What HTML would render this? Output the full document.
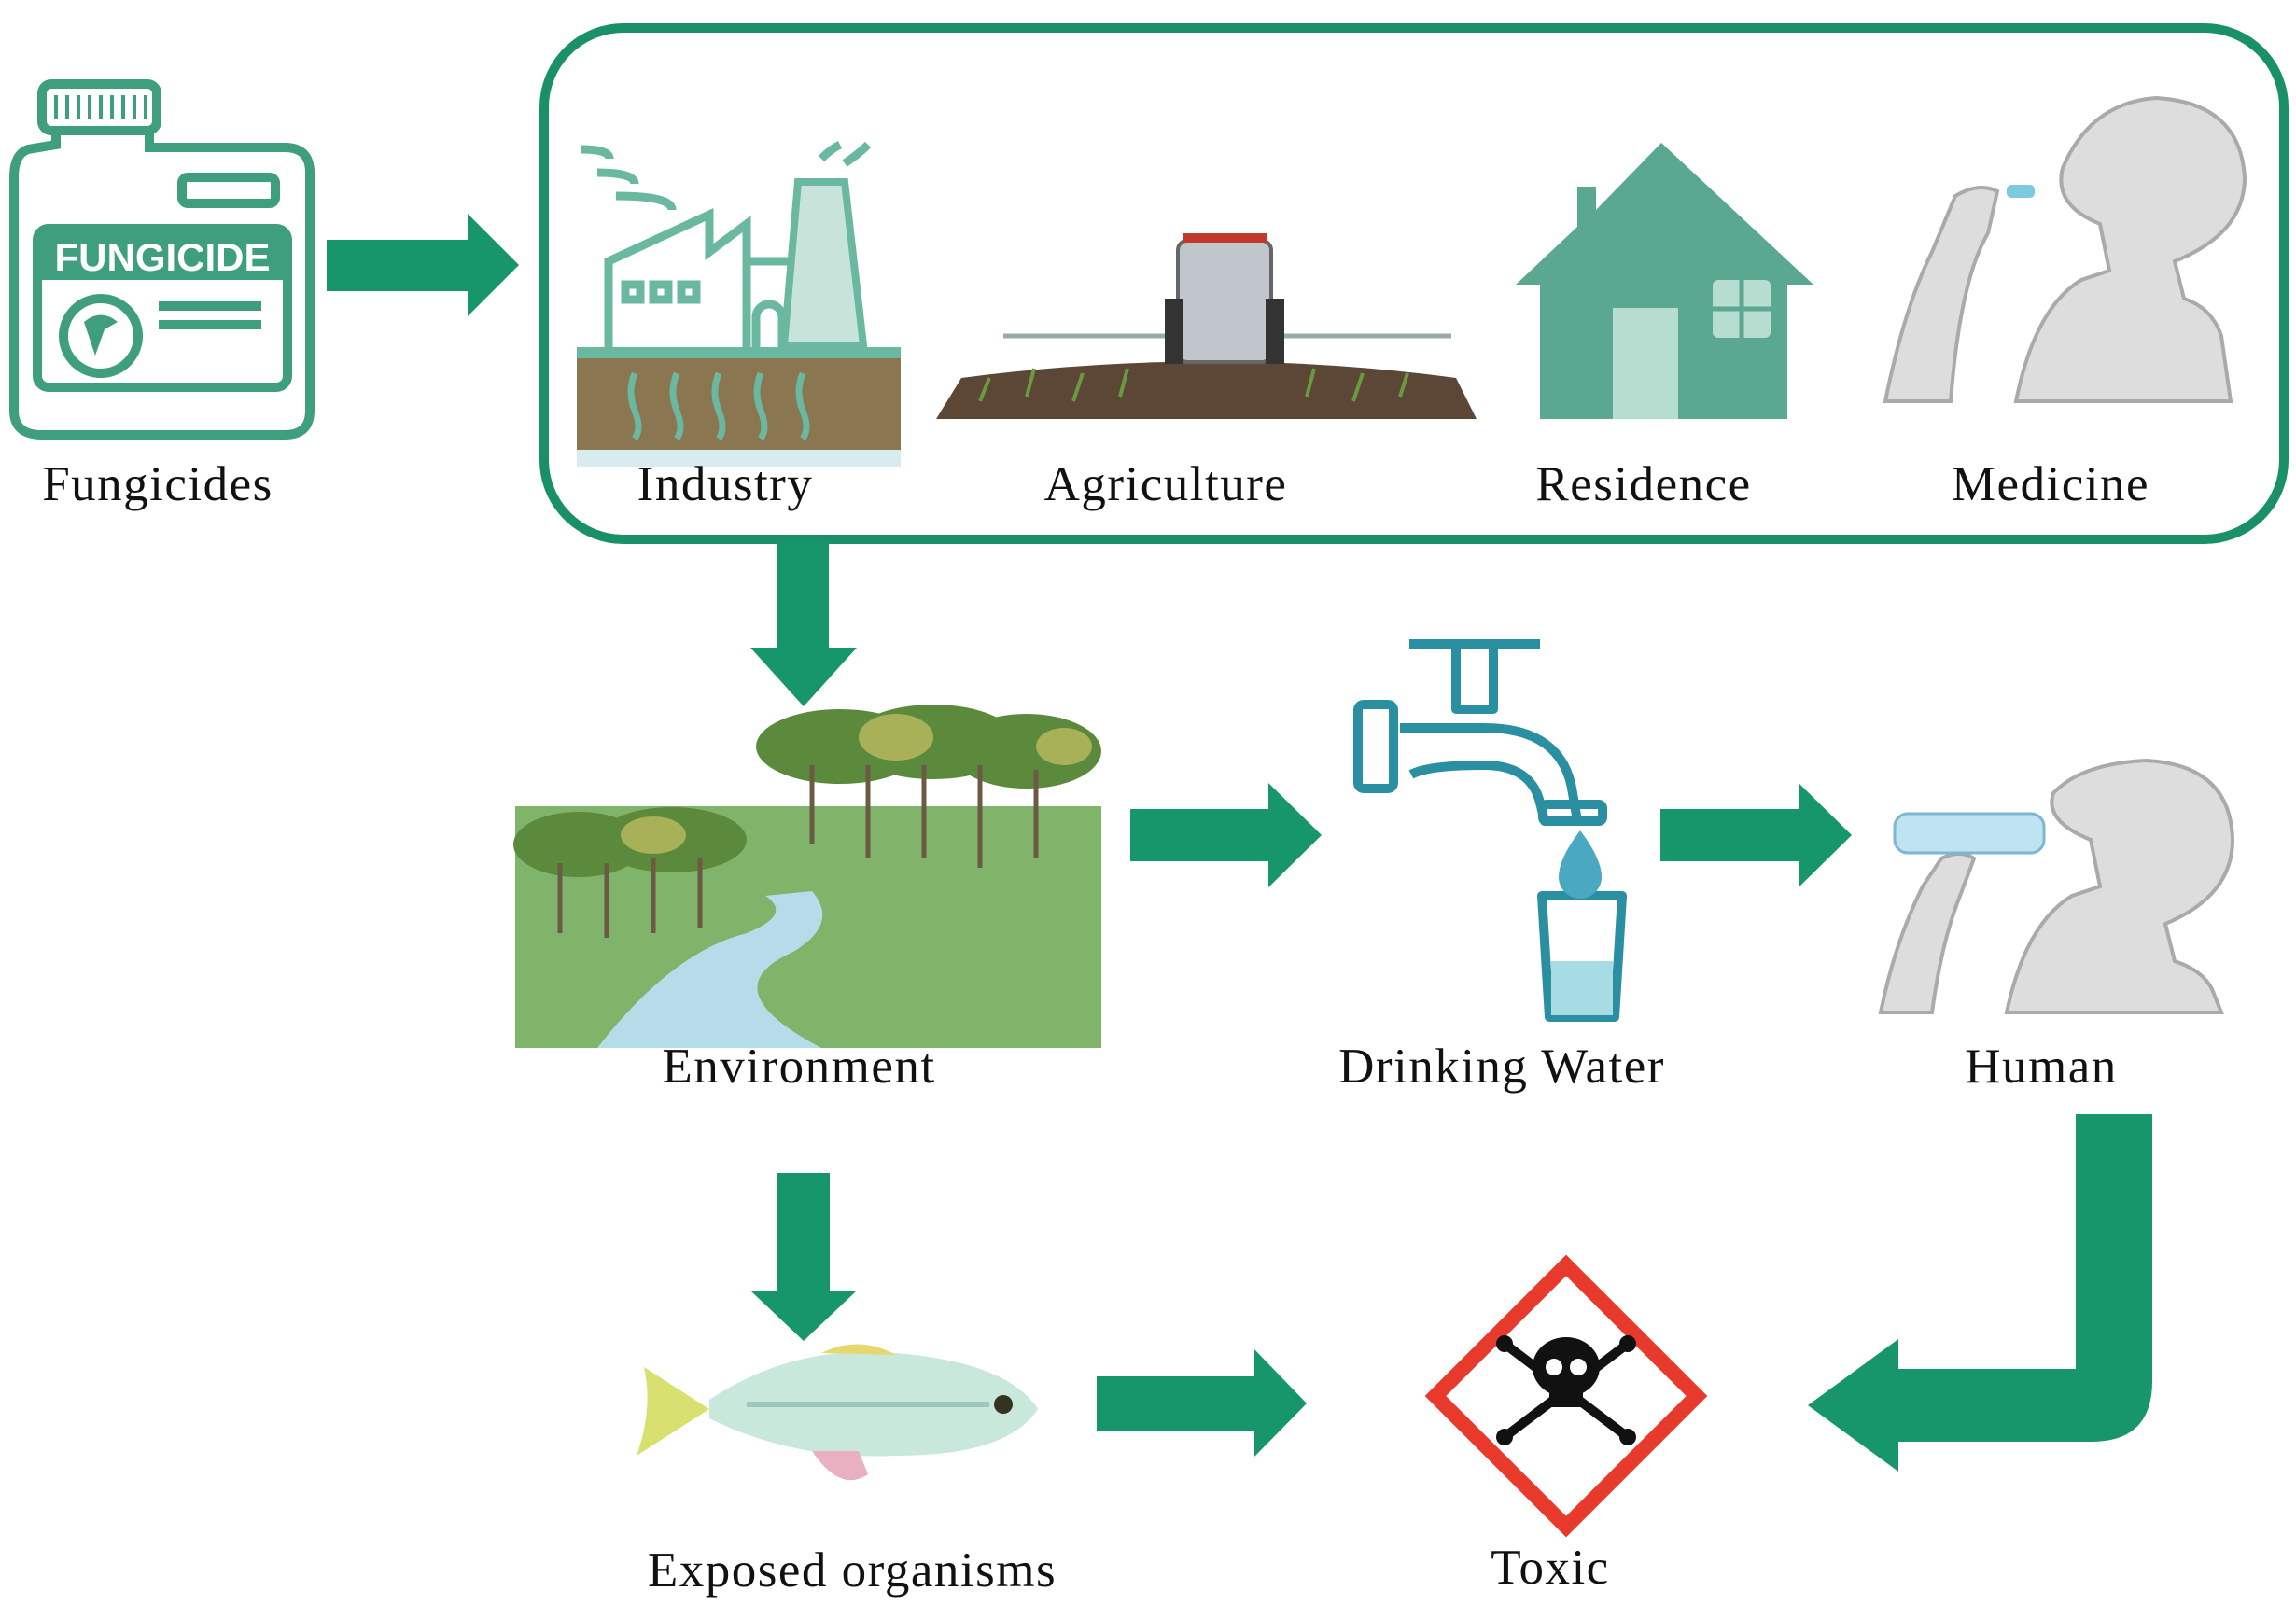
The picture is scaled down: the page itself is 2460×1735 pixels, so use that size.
<!DOCTYPE html>
<html><head><meta charset="utf-8"><style>
html,body{margin:0;padding:0;background:#fff;}
svg{display:block;}
text{font-family:"Liberation Serif",serif;font-size:53px;letter-spacing:1.5px;fill:#111;text-anchor:middle;}
</style></head><body>
<svg width="2460" height="1735" viewBox="0 0 2460 1735" xmlns="http://www.w3.org/2000/svg">
<rect x="583" y="30" width="1864" height="548" rx="85" fill="none" stroke="#1a9068" stroke-width="10"/>
<g fill="#17956b">
<polygon points="350,257 501,257 501,229 556,284 501,339 501,312 350,312"/>
<polygon points="833,580 888,580 888,694 918,694 861,757 804,694 833,694"/>
<polygon points="1211,867 1359,867 1359,839 1416,895 1359,951 1359,923 1211,923"/>
<polygon points="1779,867 1927,867 1927,839 1984,895 1927,951 1927,923 1779,923"/>
<polygon points="833,1257 889,1257 889,1383 918,1383 861,1437 804,1383 833,1383"/>
<polygon points="1175,1475 1344,1475 1344,1446 1400,1504 1344,1561 1344,1533 1175,1533"/>
<path d="M2224,1194 L2306,1194 L2306,1480 Q2306,1545 2241,1545 L2034,1545 L2034,1577 L1937,1506 L2034,1435 L2034,1467 L2224,1467 Z"/>
</g>
<!-- fungicide jug -->
<g fill="none" stroke="#3f9e7e" stroke-width="10">
<rect x="45" y="90" width="123" height="50" rx="10"/>
<path d="M60,140 L60,155 L30,160 Q15,165 15,190 L15,440 Q15,466 45,466 L305,466 Q332,466 332,440 L332,185 Q332,158 305,158 L160,158 L160,140"/>
<rect x="195" y="190" width="100" height="28" rx="6"/>
<rect x="40" y="245" width="268" height="170" rx="12"/>
<circle cx="108" cy="360" r="40"/>
<line x1="170" y1="328" x2="280" y2="328"/><line x1="170" y1="348" x2="280" y2="348"/>
</g>
<g stroke="#3f9e7e" stroke-width="4">
<line x1="60" y1="102" x2="60" y2="128"/><line x1="72" y1="102" x2="72" y2="128"/><line x1="84" y1="102" x2="84" y2="128"/><line x1="96" y1="102" x2="96" y2="128"/><line x1="108" y1="102" x2="108" y2="128"/><line x1="120" y1="102" x2="120" y2="128"/><line x1="132" y1="102" x2="132" y2="128"/><line x1="144" y1="102" x2="144" y2="128"/><line x1="156" y1="102" x2="156" y2="128"/>
</g>
<rect x="45" y="245" width="258" height="55" fill="#3f9e7e"/>
<text x="174" y="290" style="font-family:'Liberation Sans',sans-serif;font-weight:bold;font-size:42px;letter-spacing:0;fill:#fff">FUNGICIDE</text>
<path d="M90,345 q18,-15 36,0 l-14,8 l-10,28" fill="#3f9e7e"/>
<!-- industry -->
<g fill="none" stroke="#6bb8a0" stroke-width="9">
<path d="M652,378 L652,280 L760,230 L760,270 L800,240 L800,378"/>
<rect x="800" y="280" width="70" height="98"/>
<path d="M623,160 q30,0 30,10 M640,185 q40,0 40,12 M660,210 q60,0 60,15"/>
<path d="M880,170 q10,-10 20,-15 M905,175 q15,-10 25,-20"/>
<rect x="670" y="305" width="16" height="16"/><rect x="700" y="305" width="16" height="16"/><rect x="730" y="305" width="16" height="16"/>
<path d="M810,378 L810,340 a14,14 0 0 1 28,0 L838,378"/>
</g>
<polygon points="855,195 905,195 925,370 840,370" fill="#c8e4da" stroke="#6bb8a0" stroke-width="8"/>
<rect x="618" y="372" width="347" height="12" fill="#6bb8a0"/>
<rect x="618" y="384" width="347" height="100" fill="#8a7650"/>
<rect x="618" y="482" width="347" height="18" fill="#d8ecf0"/>
<g stroke="#6bb8a0" stroke-width="7" fill="none">
<path d="M680,400 q-8,20 0,40 q8,20 0,30 M725,400 q-8,20 0,40 q8,20 0,30 M770,400 q-8,20 0,40 q8,20 0,30 M815,400 q-8,20 0,40 q8,20 0,30 M860,400 q-8,20 0,40 q8,20 0,30"/>
</g>
<!-- agriculture -->
<path d="M1003,449 L1030,405 Q1300,370 1560,405 L1582,449 Z" fill="#5c4636"/>
<g stroke="#6a9a40" stroke-width="4"><path d="M1050,430 l10,-25 M1100,425 l8,-30 M1150,430 l10,-30 M1200,425 l8,-30 M1400,425 l8,-30 M1450,430 l10,-30 M1500,425 l8,-25"/></g>
<line x1="1075" y1="360" x2="1555" y2="360" stroke="#9aa" stroke-width="5"/>
<rect x="1262" y="258" width="100" height="130" rx="10" fill="#c0c6cc" stroke="#666" stroke-width="4"/>
<rect x="1268" y="250" width="90" height="10" fill="#c0392b"/>
<rect x="1248" y="320" width="20" height="70" fill="#333"/><rect x="1356" y="320" width="20" height="70" fill="#333"/>
<!-- house -->
<polygon points="1780,153 1943,305 1915,305 1915,449 1650,449 1650,305 1624,305 1690,243 1690,200 1710,200 1710,225" fill="#5aa890"/>
<rect x="1728" y="330" width="70" height="119" fill="#b7ddd0"/>
<rect x="1835" y="300" width="62" height="62" rx="6" fill="#b7ddd0"/>
<g stroke="#5aa890" stroke-width="5"><line x1="1866" y1="300" x2="1866" y2="362"/><line x1="1835" y1="331" x2="1897" y2="331"/></g>
<!-- medicine person -->
<g fill="#ddd" stroke="#aaa" stroke-width="4">
<path d="M2160,430 Q2180,330 2230,300 L2260,290 L2250,240 Q2200,220 2210,180 Q2240,110 2310,105 Q2400,110 2405,190 Q2405,250 2330,280 L2340,320 Q2370,330 2380,360 L2390,430 Z"/>
<path d="M2020,430 Q2040,330 2070,270 L2095,210 Q2120,195 2140,205 L2130,250 Q2100,300 2090,430 Z"/>
</g>
<rect x="2150" y="198" width="30" height="14" rx="5" fill="#7cc9e0"/>
<!-- environment -->
<rect x="552" y="864" width="628" height="259" fill="#80b46a"/>
<path d="M640,1123 Q720,1020 800,1000 Q850,980 820,960 L870,955 Q900,990 850,1020 Q760,1060 880,1123 Z" fill="#b5dce8"/>
<g fill="#5b8a3c">
<ellipse cx="900" cy="800" rx="90" ry="40"/><ellipse cx="1000" cy="795" rx="90" ry="40"/><ellipse cx="1100" cy="805" rx="80" ry="40"/>
<ellipse cx="620" cy="905" rx="70" ry="35"/><ellipse cx="720" cy="900" rx="80" ry="35"/>
</g>
<g fill="#a8b058"><ellipse cx="960" cy="790" rx="40" ry="25"/><ellipse cx="700" cy="895" rx="35" ry="20"/><ellipse cx="1140" cy="800" rx="30" ry="20"/></g>
<g stroke="#6b5a44" stroke-width="5">
<line x1="870" y1="820" x2="870" y2="905"/><line x1="930" y1="820" x2="930" y2="920"/><line x1="990" y1="820" x2="990" y2="920"/><line x1="1050" y1="820" x2="1050" y2="930"/><line x1="1110" y1="825" x2="1110" y2="920"/>
<line x1="600" y1="925" x2="600" y2="1000"/><line x1="650" y1="925" x2="650" y2="1005"/><line x1="700" y1="920" x2="700" y2="1000"/><line x1="750" y1="920" x2="750" y2="995"/>
</g>
<!-- faucet -->
<g fill="none" stroke="#2a8fa0" stroke-width="10" stroke-linejoin="round">
<rect x="1455" y="755" width="38" height="90" rx="6"/>
<path d="M1512,830 Q1530,820 1590,820 Q1640,820 1650,860 L1655,880 L1690,880 L1685,850 Q1675,780 1590,780 L1500,780"/>
<rect x="1653" y="862" width="64" height="18" rx="4"/>
<path d="M1510,690 L1650,690 M1560,690 L1560,760 L1600,760 L1600,690"/>
<path d="M1652,960 L1738,960 L1730,1090 L1660,1090 Z"/>
</g>
<rect x="1662" y="1030" width="66" height="58" fill="#a8dce4"/>
<path d="M1693,890 Q1670,920 1670,940 A23,23 0 0 0 1716,940 Q1716,920 1693,890 Z" fill="#4aa8c0"/>
<!-- human drinking -->
<g fill="#ddd" stroke="#aaa" stroke-width="4">
<path d="M2150,1085 Q2170,990 2220,960 L2250,950 L2240,900 Q2190,880 2200,850 Q2230,818 2300,815 Q2390,820 2392,900 Q2392,960 2320,990 L2330,1030 Q2360,1040 2370,1060 L2380,1085 Z"/>
<path d="M2015,1085 Q2030,1010 2060,950 L2080,920 Q2100,910 2115,920 L2100,960 Q2080,1010 2070,1085 Z"/>
</g>
<rect x="2030" y="872" width="160" height="42" rx="14" fill="#bfe3f0" stroke="#7cb8d0" stroke-width="3"/>
<!-- fish -->
<path d="M760,1500 Q850,1440 960,1450 Q1080,1460 1112,1510 Q1080,1560 960,1560 Q850,1565 760,1520 Z" fill="#c9e8dc"/>
<path d="M760,1510 L690,1465 Q700,1510 682,1560 Z" fill="#d8e070"/>
<path d="M880,1450 Q920,1430 960,1452 Z" fill="#e6d870"/>
<path d="M870,1555 Q900,1600 930,1580 L920,1555 Z" fill="#e8b0c0"/>
<line x1="800" y1="1505" x2="1060" y2="1505" stroke="#9cc8c0" stroke-width="6"/>
<circle cx="1075" cy="1505" r="10" fill="#332"/>
<!-- toxic -->
<polygon points="1678,1356 1818,1496 1678,1636 1538,1496" fill="#fff" stroke="#e8392d" stroke-width="16"/>
<g fill="#111">
<ellipse cx="1678" cy="1465" rx="36" ry="32"/><rect x="1660" y="1480" width="36" height="28"/>
<path d="M1612,1440 L1744,1540 M1744,1440 L1612,1540" stroke="#111" stroke-width="10"/>
<circle cx="1612" cy="1440" r="9"/><circle cx="1744" cy="1440" r="9"/><circle cx="1612" cy="1540" r="9"/><circle cx="1744" cy="1540" r="9"/>
</g>
<circle cx="1665" cy="1465" r="9" fill="#fff"/><circle cx="1691" cy="1465" r="9" fill="#fff"/>
<!-- labels -->
<text x="169" y="536">Fungicides</text>
<text x="777" y="536">Industry</text>
<text x="1249" y="536">Agriculture</text>
<text x="1761" y="536">Residence</text>
<text x="2197" y="536">Medicine</text>
<text x="856" y="1160">Environment</text>
<text x="1609" y="1160">Drinking Water</text>
<text x="2187" y="1160">Human</text>
<text x="913" y="1700">Exposed organisms</text>
<text x="1661" y="1697">Toxic</text>
</svg>
</body></html>
